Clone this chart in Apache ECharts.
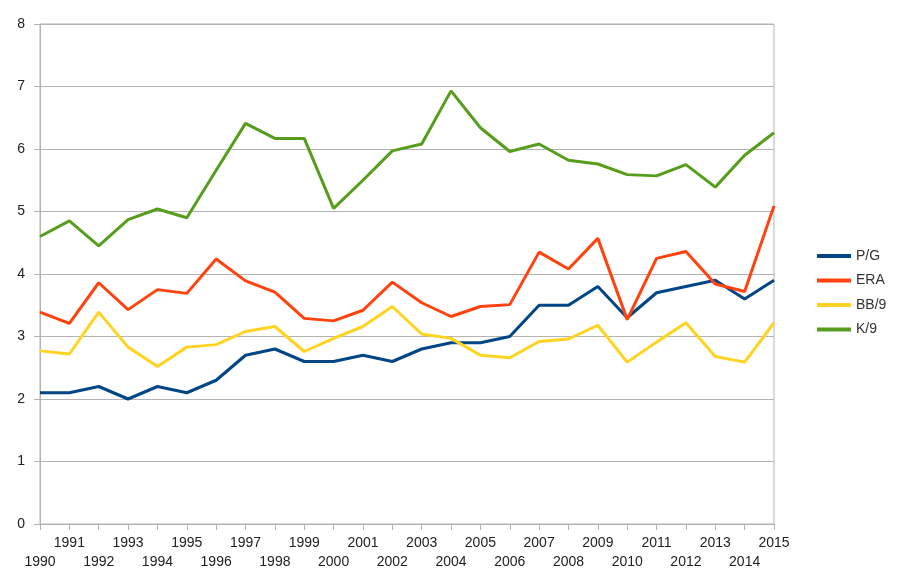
<!DOCTYPE html>
<html>
<head>
<meta charset="utf-8">
<script src="https://cdn.jsdelivr.net/npm/echarts@6/dist/echarts.min.js"></script>
<style>html,body{margin:0;padding:0;background:#fff}#c{width:900px;height:579px}</style>
</head>
<body>
<div id="c"></div>
<script>
const years = ['1990','1991','1992','1993','1994','1995','1996','1997','1998','1999','2000','2001','2002','2003','2004','2005','2006','2007','2008','2009','2010','2011','2012','2013','2014','2015'];
const pg  = [2.1,2.1,2.2,2.0,2.2,2.1,2.3,2.7,2.8,2.6,2.6,2.7,2.6,2.8,2.9,2.9,3.0,3.5,3.5,3.8,3.3,3.7,3.8,3.9,3.6,3.9];
const era = [3.39,3.21,3.86,3.43,3.75,3.69,4.24,3.89,3.71,3.29,3.25,3.42,3.87,3.54,3.32,3.48,3.51,4.35,4.08,4.57,3.27,4.25,4.36,3.84,3.72,5.09];
const bb9 = [2.77,2.72,3.39,2.83,2.52,2.83,2.87,3.08,3.16,2.76,2.97,3.16,3.48,3.04,2.97,2.70,2.66,2.92,2.96,3.18,2.59,2.91,3.22,2.68,2.59,3.22];
const k9  = [4.60,4.85,4.45,4.87,5.04,4.90,5.66,6.41,6.17,6.17,5.05,5.50,5.97,6.08,6.93,6.34,5.96,6.08,5.82,5.76,5.59,5.57,5.75,5.39,5.90,6.26];
const yTicks = [0,1,2,3,4,5,6,7,8];

const font = '"Liberation Sans", Arial, sans-serif';
const chart = echarts.init(document.getElementById('c'));
function line(name, data, color) {
  return { name, type: 'line', data, symbol: 'none', smooth: false,
    lineStyle: { width: 3, color }, itemStyle: { color }, animation: false };
}
chart.setOption({
  animation: false,
  textStyle: { fontFamily: font },
  grid: { left: 40, right: 126, top: 24, bottom: 55, show: true, borderColor: '#b3b3b3', borderWidth: 1 },
  legend: {
    orient: 'vertical', left: 812, top: 244, itemGap: 10.5,
    icon: 'rect', itemWidth: 34, itemHeight: 4,
    textStyle: { fontFamily: font, fontSize: 14, color: '#333' },
    data: ['P/G','ERA','BB/9','K/9']
  },
  xAxis: {
    type: 'category', data: years, boundaryGap: false,
    axisLine: { lineStyle: { color: '#b3b3b3' } },
    axisTick: { show: true, alignWithLabel: true, length: 6, lineStyle: { color: '#b3b3b3' } },
    axisLabel: { interval: 0, hideOverlap: false, color: '#222', fontSize: 14, fontFamily: font, lineHeight: 19, margin: 10,
      formatter: (v, i) => (i % 2 === 1 ? v : '\n' + v) },
    splitLine: { show: false }
  },
  yAxis: {
    type: 'value', min: yTicks[0], max: yTicks[yTicks.length-1], interval: 1,
    axisLine: { show: true, lineStyle: { color: '#b3b3b3' } },
    axisTick: { show: true, length: 6, lineStyle: { color: '#b3b3b3' } },
    axisLabel: { color: '#222', fontSize: 14, fontFamily: font, margin: 15 },
    splitLine: { lineStyle: { color: '#b3b3b3' } }
  },
  series: [
    line('P/G', pg, '#004586'),
    line('ERA', era, '#ff420e'),
    line('BB/9', bb9, '#ffd320'),
    line('K/9', k9, '#579d1c')
  ]
});
</script>
</body>
</html>
